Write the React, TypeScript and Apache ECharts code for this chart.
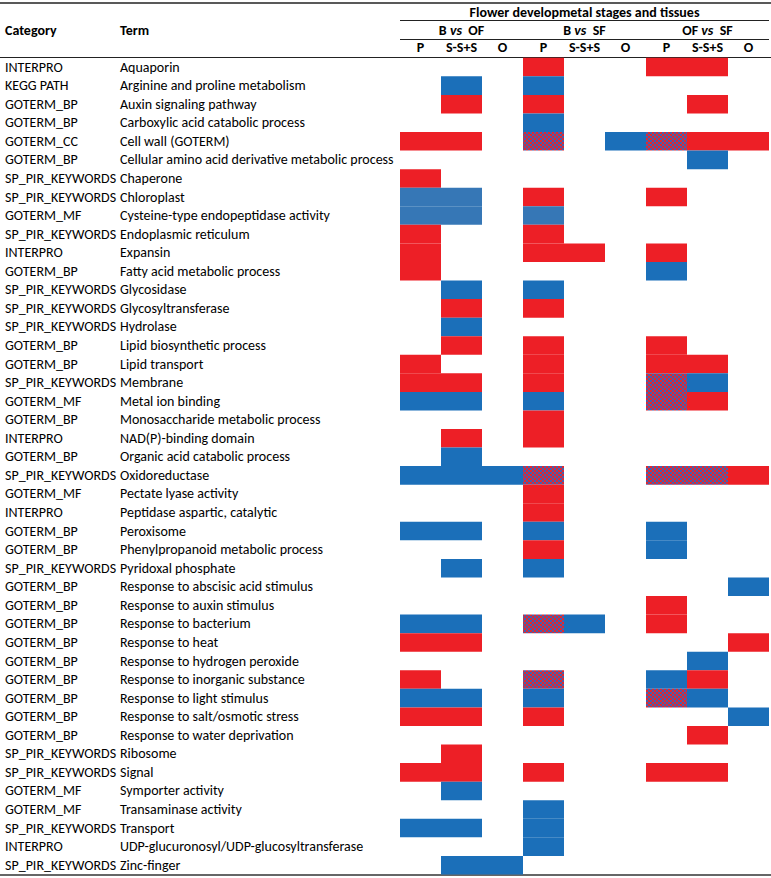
import React, { useEffect, useRef } from "react";
import * as echarts from "echarts";

const categories: string[] = [
  "INTERPRO", "KEGG PATH", "GOTERM_BP", "GOTERM_BP", "GOTERM_CC", "GOTERM_BP",
  "SP_PIR_KEYWORDS", "SP_PIR_KEYWORDS", "GOTERM_MF", "SP_PIR_KEYWORDS", "INTERPRO",
  "GOTERM_BP", "SP_PIR_KEYWORDS", "SP_PIR_KEYWORDS", "SP_PIR_KEYWORDS", "GOTERM_BP",
  "GOTERM_BP", "SP_PIR_KEYWORDS", "GOTERM_MF", "GOTERM_BP", "INTERPRO", "GOTERM_BP",
  "SP_PIR_KEYWORDS", "GOTERM_MF", "INTERPRO", "GOTERM_BP", "GOTERM_BP",
  "SP_PIR_KEYWORDS", "GOTERM_BP", "GOTERM_BP", "GOTERM_BP", "GOTERM_BP", "GOTERM_BP",
  "GOTERM_BP", "GOTERM_BP", "GOTERM_BP", "GOTERM_BP", "SP_PIR_KEYWORDS",
  "SP_PIR_KEYWORDS", "GOTERM_MF", "GOTERM_MF", "SP_PIR_KEYWORDS", "INTERPRO",
  "SP_PIR_KEYWORDS",
];

const terms: string[] = [
  "Aquaporin", "Arginine and proline metabolism", "Auxin signaling pathway",
  "Carboxylic acid catabolic process", "Cell wall (GOTERM)",
  "Cellular amino acid derivative metabolic process", "Chaperone", "Chloroplast",
  "Cysteine-type endopeptidase activity", "Endoplasmic reticulum", "Expansin",
  "Fatty acid metabolic process", "Glycosidase", "Glycosyltransferase", "Hydrolase",
  "Lipid biosynthetic process", "Lipid transport", "Membrane", "Metal ion binding",
  "Monosaccharide metabolic process", "NAD(P)-binding domain",
  "Organic acid catabolic process", "Oxidoreductase", "Pectate lyase activity",
  "Peptidase aspartic, catalytic", "Peroxisome", "Phenylpropanoid metabolic process",
  "Pyridoxal phosphate", "Response to abscisic acid stimulus",
  "Response to auxin stimulus", "Response to bacterium", "Response to heat",
  "Response to hydrogen peroxide", "Response to inorganic substance",
  "Response to light stimulus", "Response to salt/osmotic stress",
  "Response to water deprivation", "Ribosome", "Signal", "Symporter activity",
  "Transaminase activity", "Transport", "UDP-glucuronosyl/UDP-glucosyltransferase",
  "Zinc-finger",
];

const comparisons: string[] = ["B vs OF", "B vs SF", "OF vs SF"];
const tissues: string[] = ["P", "S-S+S", "O"];

// codes per row for P, S-S+S, O: R = red, B = blue, S = steel blue, H = mixed (red/blue), . = none
const bVsOF: string[] = [
  "...", ".B.", ".R.", "...", "RR.", "...", "R..", "SS.", "SS.", "R..", "R..",
  "R..", ".B.", ".R.", ".B.", ".R.", "R..", "RR.", "BB.", "...", ".R.", ".B.",
  "BBB", "...", "...", "BB.", "...", ".B.", "...", "...", "BB.", "RR.", "...",
  "R..", "BB.", "RR.", "...", ".R.", "RR.", ".B.", "...", "BB.", "...", ".BB",
];
const bVsSF: string[] = [
  "R..", "B..", "R..", "B..", "H.B", "...", "...", "R..", "S..", "R..", "RR.",
  "...", "B..", "R..", "...", "R..", "R..", "R..", "B..", "R..", "R..", "...",
  "H..", "R..", "R..", "B..", "R..", "B..", "...", "...", "HB.", "...", "...",
  "H..", "B..", "R..", "...", "...", "R..", "...", "B..", "B..", "B..", "...",
];
const ofVsSF: string[] = [
  "RR.", "...", ".R.", "...", "HRR", ".B.", "...", "R..", "...", "...", "R..",
  "B..", "...", "...", "...", "R..", "RR.", "HB.", "HR.", "...", "...", "...",
  "HHR", "...", "...", "B..", "B..", "...", "..B", "R..", "R..", "..R", ".B.",
  "BR.", "HB.", "..B", ".R.", "...", "RR.", "...", "...", "...", "...", "...",
];

const RED = "#ED1F26";
const BLUE = "#1B6FB9";
const STEEL = "#3677B6";

export default function App() {
  const ref = useRef<HTMLDivElement>(null);
  useEffect(() => {
    document.body.style.margin = "0";
    if (!ref.current) return;
    const cv = document.createElement("canvas");
    cv.width = 4;
    cv.height = 4;
    const ctx = cv.getContext("2d")!;
    ctx.fillStyle = "#4460B0";
    ctx.fillRect(0, 0, 4, 4);
    ctx.fillStyle = "#E2282F";
    ctx.fillRect(0, 0, 2, 2);
    ctx.fillRect(2, 2, 2, 2);
    const hatch: any = { image: cv, repeat: "repeat" };

    const groups = [bVsOF, bVsSF, ofVsSF];
    const data: any[] = [];
    groups.forEach((g, gi) => {
      g.forEach((codes, ri) => {
        for (let t = 0; t < 3; t++) {
          const c = codes[t];
          if (c !== ".") data.push([gi * 3 + t, ri, c]);
        }
      });
    });

    const xCats: string[] = [];
    comparisons.forEach(() => tissues.forEach((t) => xCats.push(t)));
    const rowLabels = terms.map((t, i) => `{c|${categories[i]}}{t|${t}}`);

    const font = "Carlito, Lato, 'Open Sans', sans-serif";
    const fs = 14;
    const gridLeft = 400;
    const gridTop = 57.8;
    const gridW = 369;
    const gridH = 44 * 18.56;
    const colW = gridW / 9;

    const chart = echarts.init(ref.current, null, { renderer: "svg" });
    const groupTexts = comparisons.map((c, i) => {
      const parts = c.split(" vs ");
      return {
        type: "text",
        x: gridLeft + colW * (i * 3 + 1.5),
        y: 30,
        style: {
          text: `{b|${parts[0]} }{i|vs}{b|  ${parts[1]}}`,
          align: "center",
          verticalAlign: "middle",
          rich: {
            b: { fontFamily: font, fontSize: fs, fontWeight: "bold", fill: "#000" },
            i: { fontFamily: font, fontSize: fs, fontWeight: "bold", fontStyle: "italic", fill: "#000" },
          },
        },
      };
    });

    chart.setOption({
      animation: false,
      grid: { left: gridLeft, top: gridTop, width: gridW, height: gridH },
      xAxis: {
        type: "category",
        position: "top",
        data: xCats,
        axisLine: { show: false },
        axisTick: { show: false },
        splitLine: { show: false },
        axisLabel: {
          interval: 0,
          margin: 3,
          fontFamily: font,
          fontSize: fs,
          fontWeight: "bold",
          color: "#000",
        },
      },
      yAxis: {
        type: "category",
        inverse: true,
        data: rowLabels,
        axisLine: { show: false },
        axisTick: { show: false },
        splitLine: { show: false },
        axisLabel: {
          interval: 0,
          margin: gridLeft - 5,
          align: "left",
          color: "#000",
          rich: {
            c: { width: 115, fontFamily: font, fontSize: fs, color: "#000" },
            t: { fontFamily: font, fontSize: fs, color: "#000" },
          },
        },
      },
      series: [
        {
          type: "custom",
          data,
          renderItem: (params: any, api: any) => {
            const p = api.coord([api.value(0), api.value(1)]);
            const s = api.size([1, 1]);
            const code = data[params.dataIndex][2];
            const fill = code === "R" ? RED : code === "B" ? BLUE : code === "S" ? STEEL : hatch;
            return {
              type: "rect",
              shape: { x: p[0] - s[0] / 2, y: p[1] - s[1] / 2, width: s[0], height: s[1] },
              style: { fill },
            };
          },
        },
      ],
      graphic: [
        { type: "line", shape: { x1: 0, y1: 3, x2: 771, y2: 3 }, style: { stroke: "#222", lineWidth: 1.5 } },
        { type: "line", shape: { x1: gridLeft, y1: 20.5, x2: 769, y2: 20.5 }, style: { stroke: "#222", lineWidth: 1 } },
        { type: "line", shape: { x1: gridLeft, y1: 39.5, x2: 769, y2: 39.5 }, style: { stroke: "#222", lineWidth: 1 } },
        { type: "line", shape: { x1: 0, y1: 57.5, x2: 771, y2: 57.5 }, style: { stroke: "#222", lineWidth: 1 } },
        { type: "line", shape: { x1: 0, y1: 875, x2: 771, y2: 875 }, style: { stroke: "#333", lineWidth: 1.5 } },
        {
          type: "text",
          x: gridLeft + gridW / 2,
          y: 12,
          style: {
            text: "Flower developmetal stages and tissues",
            align: "center",
            verticalAlign: "middle",
            fontFamily: font,
            fontSize: fs,
            fontWeight: "bold",
            fill: "#000",
          },
        },
        {
          type: "text",
          x: 5,
          y: 30,
          style: { text: "Category", verticalAlign: "middle", fontFamily: font, fontSize: fs, fontWeight: "bold", fill: "#000" },
        },
        {
          type: "text",
          x: 120,
          y: 30,
          style: { text: "Term", verticalAlign: "middle", fontFamily: font, fontSize: fs, fontWeight: "bold", fill: "#000" },
        },
        ...groupTexts,
      ],
    });
    return () => chart.dispose();
  }, []);
  return <div ref={ref} style={{ width: 771, height: 878 }} />;
}
